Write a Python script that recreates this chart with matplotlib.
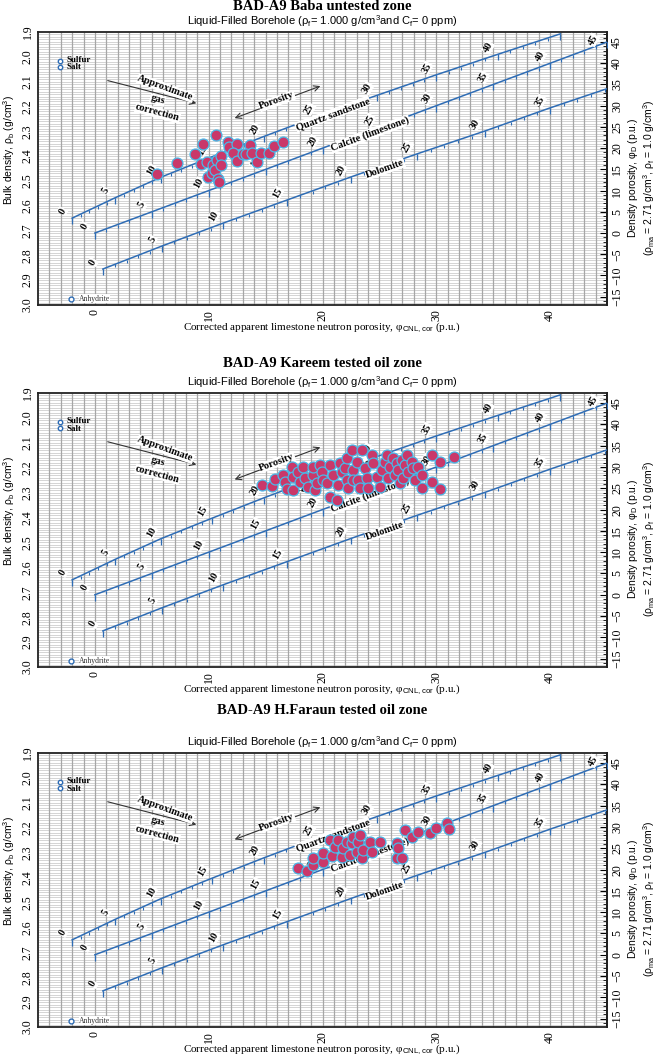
import matplotlib.pyplot as plt
import numpy as np

plt.rcParams['font.family'] = 'Liberation Serif'
plt.rcParams['mathtext.fontset'] = 'custom'
plt.rcParams['mathtext.rm'] = 'Liberation Sans'
plt.rcParams['mathtext.it'] = 'Liberation Sans:italic'

W, H = 655, 1058
BLUE = '#2f6db5'
SANS = 'Liberation Sans'

# matrix lines: true porosity -> apparent limestone neutron porosity
line_phi = [0, 5, 10, 15, 20, 25, 30, 35, 40, 45]
sand_neu = [-2.0, 1.8, 5.8, 10.3, 14.9, 19.7, 24.8, 30.0, 35.4, 40.9]
lime_neu = [0, 5, 10, 15, 20, 25, 30, 35, 40, 45]
dolo_neu = [0.7, 5.9, 11.3, 16.9, 22.5, 28.3, 34.3, 40.0, 46.0, 52.0]

# Baba untested zone
baba_neu = [5.48, 7.24, 10.64, 9.53, 8.82, 9.32, 9.82, 9.91, 10.26, 10.35,
            10.58, 10.79, 10.93, 10.70, 11.08, 11.11, 11.72, 11.81, 12.51, 12.11,
            12.46, 13.01, 13.63, 13.28, 13.83, 14.22, 14.57, 15.33, 15.74, 16.53]
baba_rho = [2.473, 2.429, 2.315, 2.352, 2.392, 2.433, 2.425, 2.483, 2.467, 2.436,
            2.457, 2.493, 2.506, 2.416, 2.400, 2.436, 2.342, 2.362, 2.352, 2.389,
            2.419, 2.393, 2.354, 2.393, 2.389, 2.423, 2.389, 2.386, 2.359, 2.343]

# Kareem tested oil zone
kareem_neu = [14.71, 15.53, 15.83, 16.56, 16.70, 16.85, 17.29, 17.38, 17.44, 17.88,
              18.02, 18.32, 18.46, 18.75, 19.19, 19.19, 19.34, 19.49, 19.78, 19.93,
              20.07, 20.37, 20.66, 20.66, 20.95, 21.25, 21.39, 21.54, 21.68, 21.98,
              22.12, 22.12, 22.27, 22.56, 22.71, 22.71, 23.00, 23.15, 23.30, 23.44,
              23.73, 23.88, 24.03, 24.32, 24.47, 24.76, 25.05, 25.20, 25.49, 25.64,
              25.78, 25.93, 26.22, 26.37, 26.52, 26.66, 26.81, 26.96, 27.10, 27.25,
              27.40, 27.54, 27.84, 27.98, 28.13, 28.42, 28.71, 28.71, 29.59, 29.59,
              30.33, 30.33, 31.56]
kareem_rho = [2.269, 2.273, 2.245, 2.229, 2.256, 2.287, 2.196, 2.236, 2.289, 2.216,
              2.256, 2.196, 2.243, 2.276, 2.229, 2.196, 2.289, 2.263, 2.189, 2.216,
              2.249, 2.263, 2.189, 2.316, 2.229, 2.330, 2.269, 2.182, 2.216, 2.202,
              2.162, 2.249, 2.283, 2.129, 2.209, 2.249, 2.176, 2.249, 2.283, 2.129,
              2.202, 2.243, 2.283, 2.149, 2.182, 2.236, 2.276, 2.209, 2.176, 2.149,
              2.243, 2.196, 2.162, 2.229, 2.182, 2.209, 2.263, 2.169, 2.243, 2.189,
              2.149, 2.216, 2.176, 2.202, 2.249, 2.196, 2.229, 2.283, 2.149, 2.256,
              2.176, 2.287, 2.158]

# H.Faraun tested oil zone
faraun_neu = [17.88, 18.61, 19.19, 19.19, 20.07, 20.07, 20.66, 20.81, 21.10, 21.39,
              21.68, 21.83, 22.12, 22.42, 22.56, 22.71, 23.00, 23.15, 23.30, 23.44,
              23.59, 24.17, 24.32, 25.05, 26.52, 26.52, 26.66, 26.96, 27.25, 27.84,
              28.42, 29.45, 29.97, 30.91, 31.15]
faraun_rho = [2.363, 2.372, 2.350, 2.323, 2.336, 2.300, 2.249, 2.314, 2.276, 2.249,
              2.316, 2.283, 2.256, 2.310, 2.263, 2.236, 2.296, 2.256, 2.229, 2.323,
              2.289, 2.256, 2.296, 2.256, 2.263, 2.323, 2.283, 2.323, 2.209, 2.236,
              2.216, 2.223, 2.202, 2.182, 2.206]

titles = ['BAD-A9 Baba untested zone', 'BAD-A9 Kareem tested oil zone',
          'BAD-A9 H.Faraun tested oil zone']
# title y, subtitle y, axes top, axes bottom (pixels)
layout = [(7, 21, 32, 305), (363, 382, 393, 667), (711, 742, 753, 1027)]
datasets = [(baba_neu, baba_rho), (kareem_neu, kareem_rho), (faraun_neu, faraun_rho)]

subtitle = ('Liquid-Filled Borehole (ρ$_{\\mathrm{f}}$= 1.000 g/cm$^{3}$and '
            'C$_{\\mathrm{f}}$= 0 ppm)')

fig = plt.figure(figsize=(W / 100, H / 100), dpi=100)


def rho2phi(r):
    return (2.71 - r) / 1.71 * 100


def phi2rho(p):
    return 2.71 - p * 1.71 / 100


box = dict(boxstyle='square,pad=0.05', fc='white', ec='none')

for title, (ty, sy, top, bot), (xs, ys) in zip(titles, layout, datasets):
    ax = fig.add_axes([38 / W, 1 - bot / H, (607 - 38) / W, (bot - top) / H])
    ax.set_xlim(-5, 45)
    ax.set_ylim(3.0, 1.9)

    ax.vlines(np.arange(-4, 45), 1.9, 3.0, color='#a6a6a6', lw=0.9, zorder=1)
    ax.hlines(np.arange(1.91, 3.0, 0.01), -5, 45, color='#cdcdcd', lw=0.6, zorder=0)

    for neu, rma in [(sand_neu, 2.65), (lime_neu, 2.71), (dolo_neu, 2.855)]:
        rho = [rma - (rma - 1.0) * p / 100 for p in line_phi]
        ax.plot(neu, rho, color=BLUE, lw=1.1, zorder=3)
        pp = np.arange(0, 46)
        nn = np.interp(pp, line_phi, neu)
        rr = rma - (rma - 1.0) * pp / 100
        ax.plot(nn, rr, ls='none', marker=3, ms=2.5, mew=0.8, color=BLUE, zorder=3)
        ax.plot(nn[::5], rr[::5], ls='none', marker=3, ms=4, mew=0.9, color=BLUE, zorder=3)
        for p, n, r in zip(line_phi, neu, rho):
            if n > 45.1 or r < 1.93:
                continue
            off = (-10, 1.5) if n > 44 else (-7, 5)
            ax.annotate(str(p), (n, r), xytext=off, textcoords='offset points',
                        rotation=60, fontsize=7.5, fontweight='bold', ha='center',
                        va='center', bbox=box, zorder=4)

    ax.text(20.9, 2.230, 'Quartz sandstone', rotation=20.5, fontsize=7.5,
            fontweight='bold', ha='center', va='center', bbox=box, zorder=4)
    ax.text(24.2, 2.311, 'Calcite (limestone)', rotation=20.5, fontsize=7.5,
            fontweight='bold', ha='center', va='center', bbox=box, zorder=4)
    ax.text(25.5, 2.452, 'Dolomite', rotation=19.5, fontsize=7.5,
            fontweight='bold', ha='center', va='center', bbox=box, zorder=4)

    ax.annotate('', xy=(9.15, 2.190), xytext=(0.89, 2.093),
                arrowprops=dict(arrowstyle='->', color='#333333', lw=0.8), zorder=4)
    ax.text(6.2, 2.126, 'Approximate', rotation=-20, fontsize=7.5, fontweight='bold',
            ha='center', va='center', bbox=box, zorder=5)
    ax.text(5.5, 2.174, 'gas', rotation=-15, fontsize=7.5, fontweight='bold',
            ha='center', va='center', bbox=box, zorder=5)
    ax.text(5.5, 2.226, 'correction', rotation=-15, fontsize=7.5, fontweight='bold',
            ha='center', va='center', bbox=box, zorder=5)

    ax.annotate('', xy=(12.05, 2.251), xytext=(20.04, 2.114),
                arrowprops=dict(arrowstyle='<->', color='#333333', lw=0.8), zorder=4)
    ax.text(16.0, 2.178, 'Porosity', rotation=20, fontsize=7.5, fontweight='bold',
            ha='center', va='center', bbox=box, zorder=5)

    ax.plot([-3.1, -3.1], [2.015, 2.042], ls='none', marker='o', ms=3.2, mfc='white',
            mec=BLUE, mew=1.0, zorder=5)
    ax.text(-2.5, 2.012, 'Sulfur', fontsize=6.5, fontweight='bold', va='center', zorder=5)
    ax.text(-2.5, 2.043, 'Salt', fontsize=6.5, fontweight='bold', va='center', zorder=5)
    ax.plot([-2.1], [2.977], ls='none', marker='o', ms=3.5, mfc='white', mec=BLUE,
            mew=1.0, zorder=5)
    ax.text(-1.4, 2.975, 'Anhydrite', fontsize=5.5, color='#333333', va='center',
            bbox=box, zorder=5)

    ax.scatter(xs, ys, s=62, c='#c9386a', edgecolors='#49b8e8', linewidths=0.9, zorder=6)

    ax.set_xticks([0, 10, 20, 30, 40])
    ax.set_xticklabels(['0', '10', '20', '30', '40'], rotation=90, fontsize=8.5)
    yt = np.round(np.arange(1.9, 3.01, 0.1), 1)
    ax.set_yticks(yt)
    ax.set_yticklabels([f'{v:.1f}' for v in yt], rotation=90, va='center', fontsize=8.5)
    ax.tick_params(length=0, pad=3)
    for s in ax.spines.values():
        s.set_linewidth(1.3)
        s.set_color('#222222')

    sec = ax.secondary_yaxis('right', functions=(rho2phi, phi2rho))
    sec.set_yticks(list(range(-15, 50, 5)))
    sec.set_yticks(list(range(-17, 48)), minor=True)
    sec.tick_params(which='major', direction='in', length=5, width=0.8, pad=3)
    sec.tick_params(which='minor', direction='in', length=3, width=0.6)
    for lab in sec.get_yticklabels():
        lab.set_rotation(90)
        lab.set_va('center')
        lab.set_fontsize(8.5)
    sec.spines['right'].set_linewidth(1.3)

    fig.text(322 / W, 1 - ty / H, title, fontsize=10.5, fontweight='bold',
             ha='center', va='center')
    fig.text(322 / W, 1 - sy / H, subtitle, family=SANS, fontsize=8,
             ha='center', va='center')
    fig.text(322 / W, 1 - (bot + 23) / H,
             'Corrected apparent limestone neutron porosity, φ$_{\\mathrm{CNL,cor}}$ (p.u.)',
             fontsize=8, ha='center', va='center')
    mid = (top + bot) / 2
    fig.text(9 / W, 1 - (mid - 19) / H, 'Bulk density, ρ$_{\\mathrm{b}}$ (g/cm$^{3}$)',
             family=SANS, fontsize=7.5, rotation=90, ha='center', va='center')
    fig.text(633 / W, 1 - (mid + 9) / H, 'Density porosity, φ$_{\\mathrm{D}}$ (p.u.)',
             family=SANS, fontsize=7.5, rotation=90, ha='center', va='center')
    fig.text(649 / W, 1 - (mid + 9) / H,
             '(ρ$_{\\mathrm{ma}}$ = 2.71 g/cm$^{3}$, ρ$_{\\mathrm{f}}$ = 1.0 g/cm$^{3}$)',
             family=SANS, fontsize=7.5, rotation=90, ha='center', va='center')

fig.savefig('out.png', dpi=100)
